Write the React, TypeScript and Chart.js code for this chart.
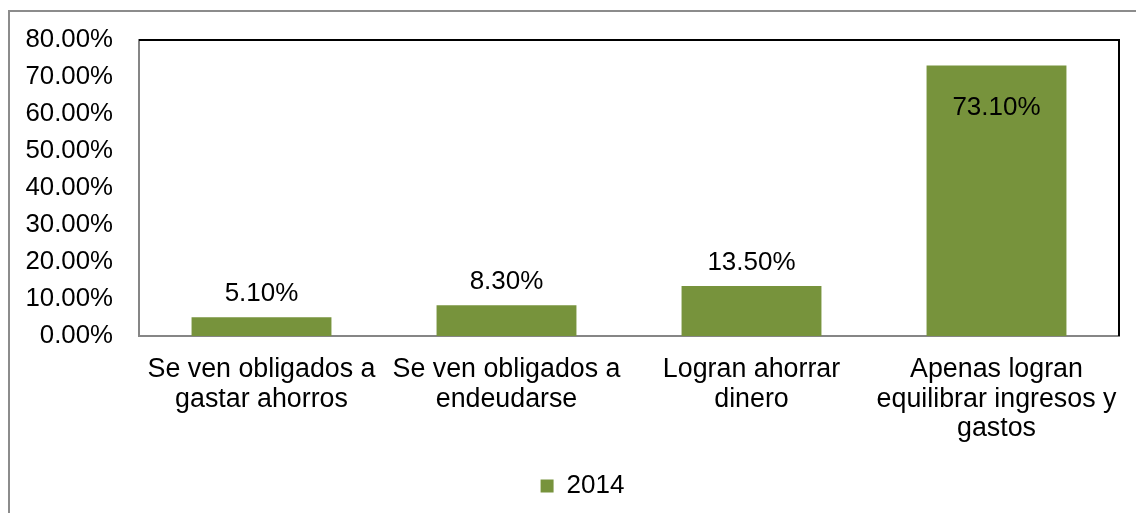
import React, { useEffect, useRef } from "react";
import { Chart, registerables } from "chart.js";

Chart.register(...registerables);

const categories: (string | string[])[] = [
  ["Se ven obligados a", "gastar ahorros"],
  ["Se ven obligados a", "endeudarse"],
  ["Logran ahorrar", "dinero"],
  ["Apenas logran", "equilibrar ingresos y", "gastos"],
];
const seriesLabel = "2014";
const values2014 = [5.1, 8.3, 13.5, 73.1];
const yTicks = { min: 0, max: 80, step: 10 };

const FONT = "'Liberation Sans', Arial, sans-serif";
const GREEN = "#77933C";

const framePlugin = {
  id: "frame",
  beforeDraw(chart: any) {
    const ctx = chart.ctx;
    ctx.save();
    ctx.fillStyle = "#ffffff";
    ctx.fillRect(0, 0, chart.width, chart.height);
    ctx.strokeStyle = "#8c8c8c";
    ctx.lineWidth = 2;
    ctx.strokeRect(9, 11, chart.width + 20, chart.height + 20);
    ctx.restore();
  },
  afterLayout(chart: any) {
    if (chart.legend) {
      chart.legend.left += 23;
      chart.legend.right += 23;
    }
  },
  afterDraw(chart: any) {
    const { ctx, chartArea } = chart;
    ctx.save();
    ctx.strokeStyle = "#000000";
    ctx.lineWidth = 2;
    ctx.beginPath();
    ctx.moveTo(chartArea.left, chartArea.top);
    ctx.lineTo(chartArea.right, chartArea.top);
    ctx.lineTo(chartArea.right, chartArea.bottom);
    ctx.stroke();
    ctx.restore();
  },
};

const labelPlugin = {
  id: "barLabels",
  afterDatasetsDraw(chart: any) {
    const ctx = chart.ctx;
    const meta = chart.getDatasetMeta(0);
    const data = chart.data.datasets[0].data as number[];
    ctx.save();
    ctx.font = `26px ${FONT}`;
    ctx.fillStyle = "#000000";
    ctx.textAlign = "center";
    ctx.textBaseline = "middle";
    meta.data.forEach((bar: any, i: number) => {
      const v = data[i];
      const y = v > 50 ? bar.y + 42 : bar.y - 23;
      ctx.fillText(v.toFixed(2) + "%", bar.x, y);
    });
    ctx.restore();
  },
};

export default function App() {
  const ref = useRef<HTMLCanvasElement>(null);
  useEffect(() => {
    if (!ref.current) return;
    const chart = new Chart(ref.current, {
      type: "bar",
      data: {
        labels: categories,
        datasets: [
          {
            label: seriesLabel,
            data: values2014,
            backgroundColor: GREEN,
            borderWidth: 0,
            categoryPercentage: 1,
            barPercentage: 0.571,
          },
        ],
      },
      options: {
        animation: false,
        responsive: false,
        layout: { padding: { left: 0, top: 40, right: 17, bottom: 4 } },
        plugins: {
          legend: {
            position: "bottom",
            labels: {
              boxWidth: 13,
              boxHeight: 13,
              color: "#000000",
              font: { family: FONT, size: 26 },
            },
          },
          tooltip: { enabled: false },
        },
        scales: {
          x: {
            grid: { display: false },
            border: { display: true, color: "#868686", width: 2 },
            ticks: {
              color: "#000000",
              font: { family: FONT, size: 26.8, lineHeight: 1.1 },
              padding: 11,
              maxRotation: 0,
              autoSkip: false,
            },
            afterFit(scale: any) {
              scale.height = 127;
            },
          },
          y: {
            min: yTicks.min,
            max: yTicks.max,
            grid: { display: false },
            border: { display: true, color: "#868686", width: 2 },
            ticks: {
              stepSize: yTicks.step,
              color: "#000000",
              font: { family: FONT, size: 25.8 },
              padding: 18,
              callback: (v: any) => Number(v).toFixed(2) + "%",
            },
            afterFit(scale: any) {
              scale.width = 139;
            },
          },
        },
      },
      plugins: [framePlugin, labelPlugin],
    });
    return () => chart.destroy();
  }, []);
  return (
    <div style={{ position: "fixed", left: 0, top: 0, width: 1136, height: 513, overflow: "hidden" }}>
      <canvas ref={ref} width={1136} height={513} style={{ display: "block" }} />
    </div>
  );
}
